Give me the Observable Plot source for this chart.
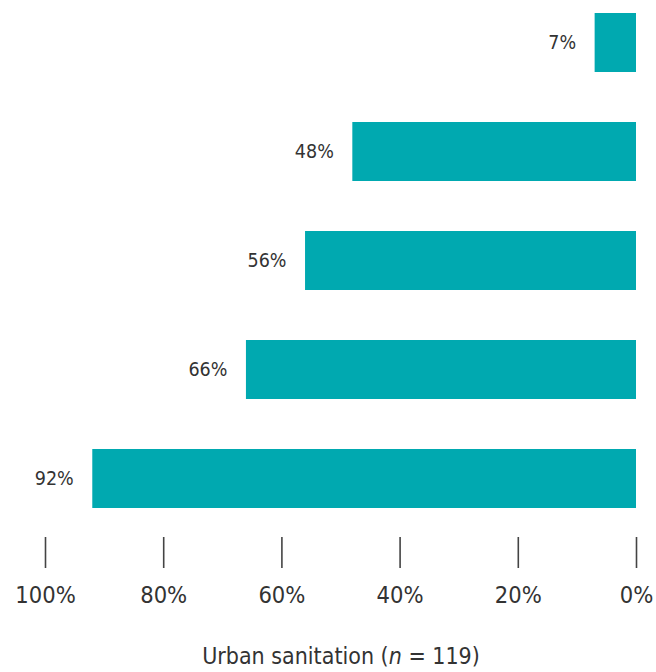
<!DOCTYPE html>
<html>
<head>
<meta charset="utf-8">
<script src="https://cdn.jsdelivr.net/npm/d3@7"></script>
<script src="https://cdn.jsdelivr.net/npm/@observablehq/plot@0.6"></script>
<style>
  body { margin: 0; background: #fff; }
  svg { font-family: "Liberation Sans Narrow", "DejaVu Sans Condensed", sans-serif; font-stretch: condensed; }
</style>
</head>
<body>
<div id="chart"></div>
<script>
const categories = ["A", "B", "C", "D", "E"];
const values = [7, 48, 56, 66, 92];
const tickValues = [100, 80, 60, 40, 20, 0];
const axisTitle = "Urban sanitation";
const nValue = 119;

const data = categories.map((c, i) => ({ cat: c, value: values[i] }));

const plot = Plot.plot({
  width: 656,
  height: 672,
  marginTop: 12,
  marginBottom: 163,
  marginLeft: 45,
  marginRight: 20,
  style: { background: "#fff", fontFamily: "\"Liberation Sans Narrow\", \"DejaVu Sans Condensed\", sans-serif" },
  x: { domain: [100, 0], axis: null },
  y: { domain: categories, paddingInner: 0.461, paddingOuter: 0, axis: null },
  marks: [
    Plot.barX(data, { x1: 0, x2: "value", y: "cat", fill: "#00a9b0" }),
    Plot.text(data, {
      x: "value", y: "cat", text: d => d.value + "%",
      textAnchor: "end", dx: -19, fontSize: 19.5, fill: "#333"
    }),
    Plot.axisX({
      ticks: tickValues, tickFormat: d => d + "%", anchor: "bottom",
      dy: 28, tickSize: 31, tickPadding: 18, fontSize: 23.5,
      stroke: "#444", strokeWidth: 1.6, fill: "#333", label: null
    })
  ]
});

const svg = d3.select(plot);
const t = svg.append("text")
  .attr("x", 341).attr("y", 664)
  .attr("text-anchor", "middle")
  .attr("font-size", 23)
  .attr("fill", "#333");
t.append("tspan").text(axisTitle + " (");
t.append("tspan").attr("font-style", "italic").text("n");
t.append("tspan").text(" = " + nValue + ")");

document.getElementById("chart").appendChild(plot);
</script>
</body>
</html>
